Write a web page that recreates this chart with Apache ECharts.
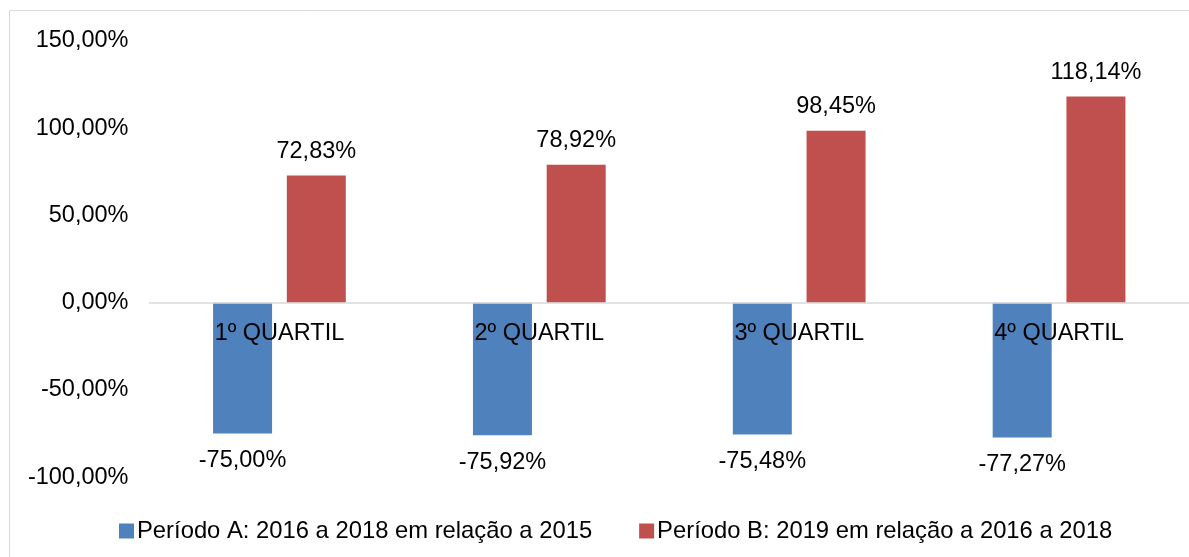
<!DOCTYPE html>
<html>
<head>
<meta charset="utf-8">
<script src="https://cdn.jsdelivr.net/npm/echarts@6/dist/echarts.min.js"></script>
<style>
  html, body { margin: 0; padding: 0; background: #fff; }
  #chart { width: 1189px; height: 557px; }
</style>
</head>
<body>
<div id="chart"></div>
<script>
// Quartis e variações percentuais por período
const categories = ['1º QUARTIL', '2º QUARTIL', '3º QUARTIL', '4º QUARTIL'];
const seriesNames = [
  'Período A: 2016 a 2018 em relação a 2015',
  'Período B: 2019 em relação a 2016 a 2018'
];
const periodoA = [-75.00, -75.92, -75.48, -77.27];
const periodoB = [72.83, 78.92, 98.45, 118.14];
const yTicks = { min: -100, max: 150, interval: 50 };

const FONT = 'Liberation Sans, Arial, sans-serif';
const SIZE = 23.5;
const fmt = v => v.toFixed(2).replace('.', ',') + '%';

const chart = echarts.init(document.getElementById('chart'));
chart.setOption({
  animation: false,
  backgroundColor: '#ffffff',
  textStyle: { fontFamily: FONT, color: '#000' },
  graphic: [{
    type: 'rect',
    shape: { x: 9.5, y: 10.5, width: 1200, height: 600 },
    style: { fill: 'none', stroke: '#d9d9d9', lineWidth: 1 },
    silent: true,
    z: -1
  }],
  grid: { left: 149.5, right: 0, top: 40.75, bottom: 79.75 },
  legend: {
    left: 114,
    top: 514,
    itemWidth: 15,
    itemHeight: 15,
    itemGap: 47,
    icon: 'rect',
    textStyle: { fontFamily: FONT, fontSize: 23.8, color: '#000', padding: [0, 0, 0, -2] },
    data: seriesNames
  },
  xAxis: {
    type: 'category',
    data: categories,
    axisLine: { onZero: true, lineStyle: { color: '#d9d9d9', width: 1.5 } },
    axisTick: { show: false },
    // category names sit just under the zero line, over the negative bars
    axisLabel: { margin: -156, fontFamily: FONT, fontSize: SIZE, color: '#000' },
    splitLine: { show: false },
    z: 5
  },
  yAxis: {
    type: 'value',
    min: yTicks.min,
    max: yTicks.max,
    interval: yTicks.interval,
    axisLine: { show: false },
    axisTick: { show: false },
    splitLine: { show: false },
    axisLabel: {
      margin: 21,
      fontFamily: FONT,
      fontSize: SIZE,
      color: '#000',
      formatter: v => fmt(v)
    }
  },
  series: [
    {
      name: seriesNames[0],
      type: 'bar',
      data: periodoA,
      barWidth: 59,
      barGap: '25%',
      z: 2,
      itemStyle: { color: '#4f81bd' },
      label: {
        show: true,
        position: 'bottom',
        distance: 15,
        fontFamily: FONT,
        fontSize: SIZE,
        color: '#000',
        formatter: p => fmt(p.value)
      }
    },
    {
      name: seriesNames[1],
      type: 'bar',
      data: periodoB,
      barWidth: 59,
      barGap: '25%',
      z: 2,
      itemStyle: { color: '#c0504d' },
      label: {
        show: true,
        position: 'top',
        distance: 12,
        fontFamily: FONT,
        fontSize: SIZE,
        color: '#000',
        formatter: p => fmt(p.value)
      }
    }
  ]
});
</script>
</body>
</html>
